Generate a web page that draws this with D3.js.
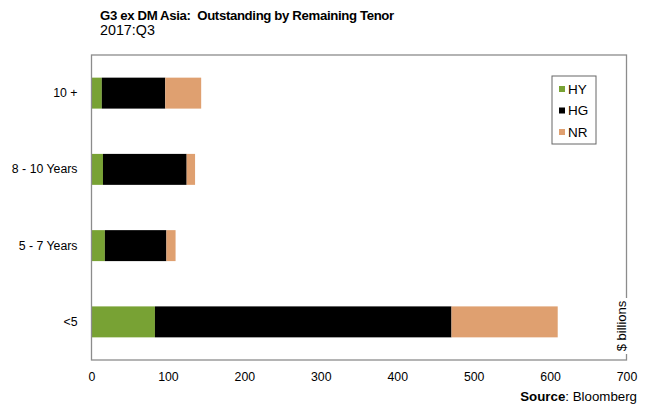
<!DOCTYPE html>
<html><head><meta charset="utf-8">
<script src="https://cdn.jsdelivr.net/npm/d3@7"></script>
<style>body{margin:0;background:#fff;}svg{display:block;font-family:"Liberation Sans",Arial,sans-serif;}</style>
</head><body>
<script>
const categories = ["10 +", "8 - 10 Years", "5 - 7 Years", "<5"];
const seriesNames = ["HY", "HG", "NR"];
const HY = [13.5, 15, 17.5, 83];
const HG = [83, 109.5, 80.5, 388];
const NR = [47, 11, 12, 139];
const xTicks = [0, 100, 200, 300, 400, 500, 600, 700];
const colors = ["#78a234", "#000000", "#dfa070"];

const W = 646, H = 407;
const L = 91.5, R = 626.5, T = 55, B = 360;
const svg = d3.select("body").append("svg").attr("width", W).attr("height", H);

const data = categories.map((c, i) => ({cat: c, HY: HY[i], HG: HG[i], NR: NR[i]}));
const stack = d3.stack().keys(seriesNames)(data);

const x = d3.scaleLinear().domain([0, 700]).range([L, R]);
const y = d3.scaleBand().domain(categories).range([T, B]).paddingInner(0.594).paddingOuter(0.297);

// bars
svg.append("g").selectAll("g").data(stack).join("g")
  .attr("fill", (d, i) => colors[i])
  .selectAll("rect").data(d => d).join("rect")
  .attr("x", d => x(d[0]))
  .attr("y", d => y(d.data.cat))
  .attr("width", d => x(d[1]) - x(d[0]))
  .attr("height", y.bandwidth());

// frame
svg.append("rect").attr("x", L).attr("y", T).attr("width", R - L).attr("height", B - T)
  .attr("fill", "none").attr("stroke", "#8c8c8c").attr("stroke-width", 1.3);

// x axis labels
const xAxis = d3.axisBottom(x).tickValues(xTicks).tickSize(0).tickPadding(12);
const gx = svg.append("g").attr("transform", `translate(0,${B})`).call(xAxis);
gx.select(".domain").remove();
gx.selectAll("text").attr("font-size", 12.3).attr("fill", "#000")
  .attr("font-family", "'Liberation Sans',Arial,sans-serif");

// y axis labels
const yAxis = d3.axisLeft(y).tickSize(0).tickPadding(14);
const gy = svg.append("g").attr("transform", `translate(${L},0)`).call(yAxis);
gy.select(".domain").remove();
gy.selectAll("text").attr("font-size", 12.3).attr("fill", "#000")
  .attr("font-family", "'Liberation Sans',Arial,sans-serif");

// $ billions label
const ub = svg.append("g").attr("transform", `translate(627,326) rotate(-90)`);
ub.append("rect").attr("x", -28).attr("y", -11).attr("width", 56).attr("height", 13).attr("fill", "#fff");
ub.append("text").attr("text-anchor", "middle").attr("font-size", 13).attr("y", -1).text("$ billions");

// legend
const lg = svg.append("g");
lg.append("rect").attr("x", 552).attr("y", 76).attr("width", 44).attr("height", 68)
  .attr("fill", "#fff").attr("stroke", "#666").attr("stroke-width", 1);
seriesNames.forEach((s, i) => {
  const cy = 89 + i * 21.5;
  lg.append("rect").attr("x", 559).attr("y", cy - 3).attr("width", 6).attr("height", 6).attr("fill", colors[i]);
  lg.append("text").attr("x", 568).attr("y", cy + 4.5).attr("font-size", 13.5).text(s);
});

// title
svg.append("text").attr("x", 100).attr("y", 20).attr("font-size", 13.2).attr("font-weight", "bold")
  .attr("letter-spacing", -0.35).style("white-space", "pre")
  .text("G3 ex DM Asia:  Outstanding by Remaining Tenor");
svg.append("text").attr("x", 100).attr("y", 35).attr("font-size", 14.3).text("2017:Q3");

// source
const src = svg.append("text").attr("x", 637).attr("y", 401).attr("text-anchor", "end").attr("font-size", 13.3);
src.append("tspan").attr("font-weight", "bold").text("Source");
src.append("tspan").text(": Bloomberg");
</script>
</body></html>
